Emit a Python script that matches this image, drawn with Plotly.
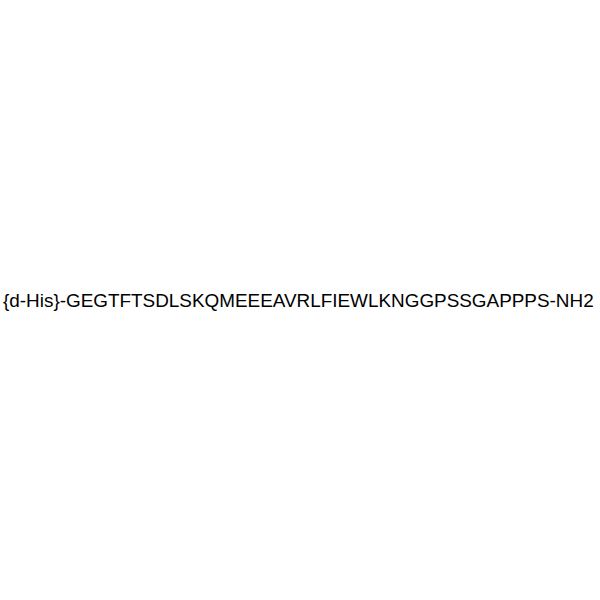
import plotly.graph_objects as go

# peptide label shown in the picture
labels = ["{d-His}-GEGTFTSDLSKQMEEEAVRLFIEWLKNGGPSSGAPPPS-NH2"]

fig = go.Figure()
fig.add_annotation(
    text=labels[0], x=0.497, y=0.5, xref="paper", yref="paper",
    showarrow=False, xanchor="center", yanchor="middle", borderpad=0,
    font=dict(family="Liberation Sans, Arial", size=18.9, color="black"),
)
fig.update_layout(
    width=600, height=600, margin=dict(l=0, r=0, t=0, b=0),
    paper_bgcolor="white", plot_bgcolor="white",
    xaxis=dict(visible=False), yaxis=dict(visible=False),
)
# drop the page margin so the 600x600 figure fills the window
fig.write_html(
    "out.html",
    config={"displayModeBar": False},
    post_script="document.body.style.margin='0';document.body.style.overflow='hidden';",
)
